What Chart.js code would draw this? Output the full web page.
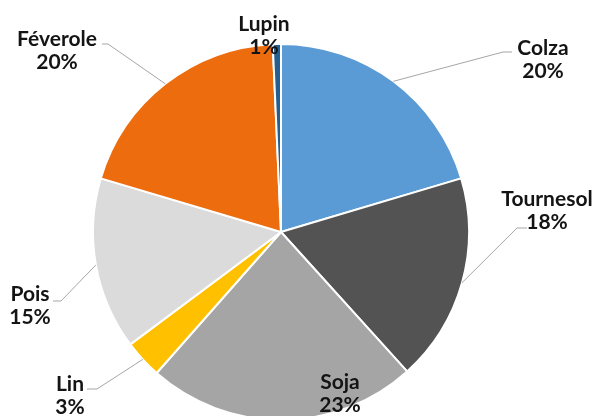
<!DOCTYPE html>
<html>
<head>
<meta charset="utf-8">
<script src="https://cdn.jsdelivr.net/npm/chart.js@4"></script>
<style>
  html, body { margin: 0; padding: 0; background: #fff; overflow: hidden; }
  #wrap { width: 596px; height: 464px; }
</style>
</head>
<body>
<div id="wrap"><canvas id="chart" width="596" height="464"></canvas></div>
<script>
// cultures, parts en %
const cultures = ["Colza", "Tournesol", "Soja", "Lin", "Pois", "Féverole", "Lupin"];
const parts = [20.4, 17.9, 23.2, 3.3, 14.8, 19.7, 0.7];
const couleurs = ['#5b9bd5', '#535353', '#a5a5a5', '#ffc000', '#dbdbdb', '#ed6d0e', '#255e91'];

// placement des etiquettes, en px depuis le centre du camembert
// t = centre du texte, e = coude du trait, h = bout du trait horizontal
const placement = [
    { t: [262, -173], e: [222, -180], h: [231, -180] },
    { t: [266, -22], e: [236, -4], h: [246, -4] },
    { t: [59, 161] },
    { t: [-211, 163], e: [-184, 157], h: [-194, 157] },
    { t: [-251, 73], e: [-220, 69], h: [-228, 69] },
    { t: [-224, -182], e: [-173, -188], h: [-179, -188] },
    { t: [-17, -197] }
];

const etiquettes = {
    id: 'etiquettes',
    afterDatasetsDraw(chart) {
        const ctx = chart.ctx;
        const meta = chart.getDatasetMeta(0);
        const total = parts.reduce((a, b) => a + b, 0);
        ctx.save();
        meta.data.forEach((arc, i) => {
            const p = placement[i];
            const cx = arc.x, cy = arc.y;
            if (p.e) {
                const mid = (arc.startAngle + arc.endAngle) / 2;
                ctx.beginPath();
                ctx.strokeStyle = '#a6a6a6';
                ctx.lineWidth = 1;
                ctx.moveTo(cx + Math.cos(mid) * arc.outerRadius, cy + Math.sin(mid) * arc.outerRadius);
                ctx.lineTo(cx + p.e[0], cy + p.e[1]);
                ctx.lineTo(cx + p.h[0], cy + p.h[1]);
                ctx.stroke();
            }
            const pct = Math.round(parts[i] / total * 100) + '%';
            ctx.fillStyle = '#141414';
            ctx.font = 'bold 21px Lato';
            ctx.textAlign = 'center';
            ctx.textBaseline = 'middle';
            ctx.fillText(cultures[i], cx + p.t[0], cy + p.t[1] - 11);
            ctx.fillText(pct, cx + p.t[0], cy + p.t[1] + 12);
        });
        ctx.restore();
    }
};

new Chart('chart', {
    type: 'pie',
    data: {
        labels: cultures,
        datasets: [{
            data: parts,
            backgroundColor: couleurs,
            borderColor: '#ffffff',
            borderWidth: 2
        }]
    },
    options: {
        responsive: false,
        animation: false,
        radius: 188,
        layout: { padding: { left: 0, right: 34, top: 0, bottom: 0 } },
        plugins: {
            legend: { display: false },
            tooltip: { enabled: false }
        }
    },
    plugins: [etiquettes]
});
</script>
</body>
</html>
